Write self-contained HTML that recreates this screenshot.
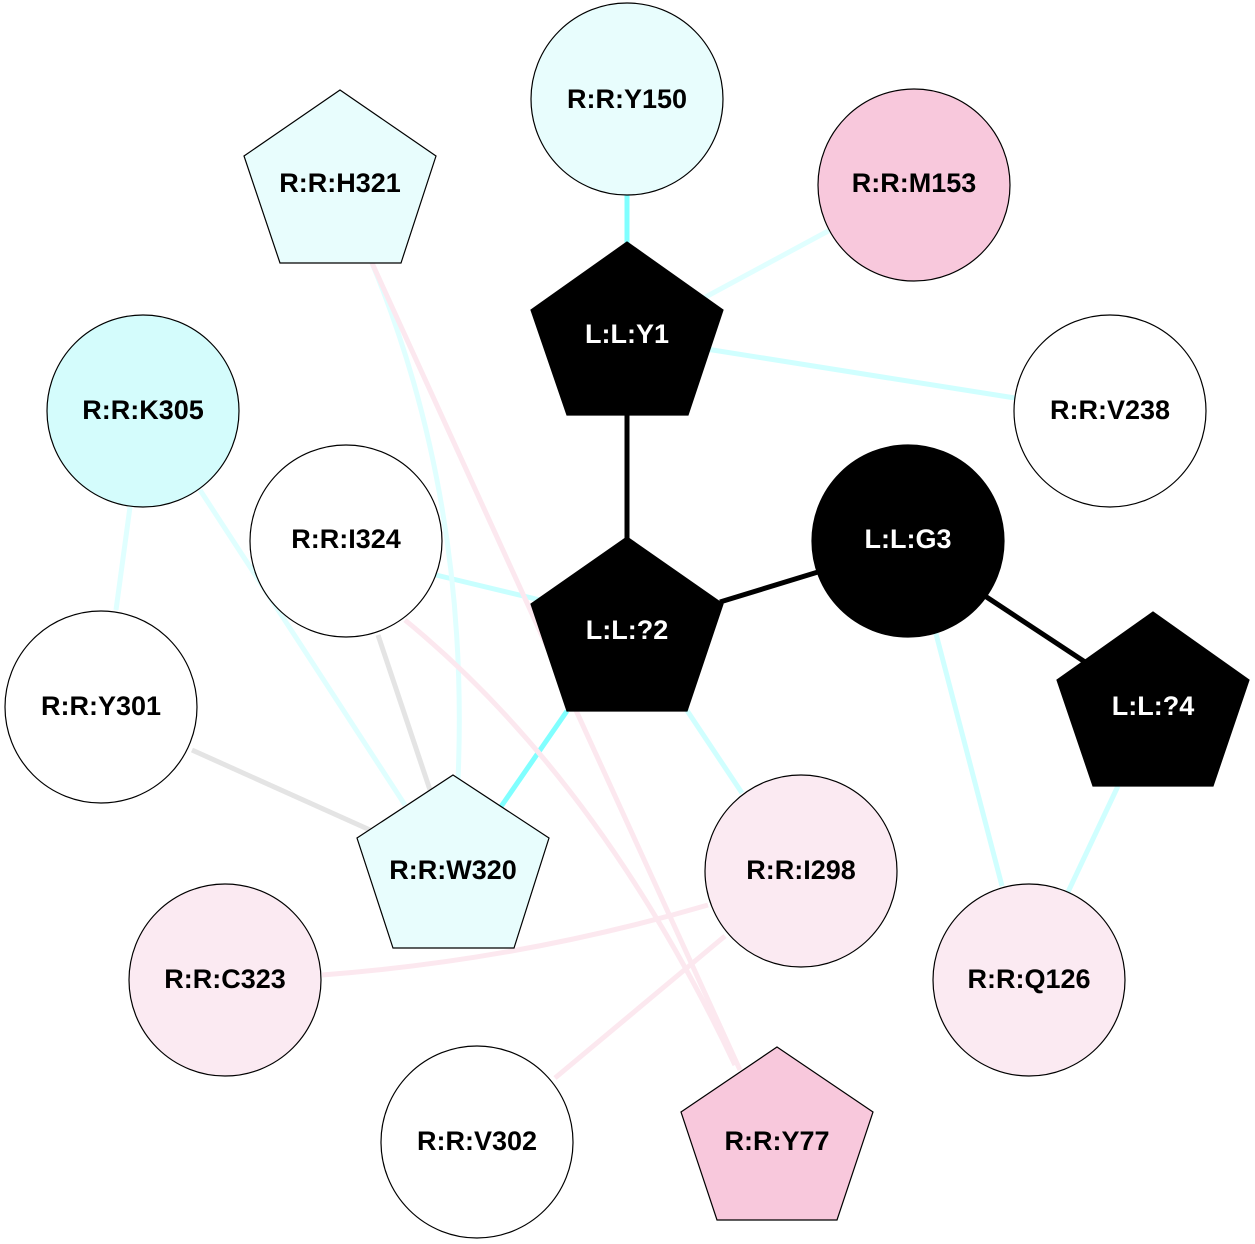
<!DOCTYPE html>
<html><head><style>body{margin:0;background:#fff}svg{display:block}text{font-family:"Liberation Sans",Arial,sans-serif;font-weight:bold;font-size:27px;text-anchor:middle;dominant-baseline:central}</style></head>
<body>
<svg width="1255" height="1244" viewBox="0 0 1255 1244">
<g fill="none" stroke-width="5">
<line x1="627" y1="190" x2="627" y2="250" stroke="#80ffff"/>
<line x1="830" y1="230" x2="700" y2="300" stroke="#e0ffff"/>
<line x1="1015" y1="398" x2="700" y2="348" stroke="#d0ffff"/>
<line x1="436" y1="575" x2="540" y2="600" stroke="#c8ffff"/>
<line x1="567" y1="711" x2="500" y2="808" stroke="#80ffff"/>
<line x1="680" y1="700" x2="742" y2="793" stroke="#d0ffff"/>
<line x1="935" y1="630" x2="1002" y2="886" stroke="#d0ffff"/>
<line x1="1118" y1="786" x2="1068" y2="892" stroke="#d0ffff"/>
<line x1="130" y1="507" x2="116" y2="610" stroke="#e0ffff"/>
<line x1="200" y1="490" x2="405" y2="805" stroke="#e0ffff"/>
<path d="M372,263 Q470,500 458,780" stroke="#e0ffff"/>
<line x1="372" y1="263" x2="740" y2="1070" stroke="#fce8ef"/>
<path d="M405,620 Q600,780 735,1065" stroke="#fce8ef"/>
<line x1="378" y1="635" x2="430" y2="790" stroke="#e4e4e4"/>
<line x1="192" y1="750" x2="370" y2="830" stroke="#e4e4e4"/>
<path d="M322,975 Q520,960 708,905" stroke="#fce8ef"/>
<line x1="725" y1="936" x2="555" y2="1078" stroke="#fce8ef"/>
<line x1="627" y1="415" x2="627" y2="540" stroke="#000"/>
<line x1="720" y1="602" x2="818" y2="572" stroke="#000"/>
<line x1="985" y1="596" x2="1085" y2="662" stroke="#000"/>
</g>
<g stroke="#000" stroke-width="1.2">
<circle cx="627" cy="99" r="96" fill="#e8fdfd"/>
<circle cx="914" cy="185" r="96" fill="#f8c8dc"/>
<polygon points="340,90 436,156 401,263 280,263 244,156" fill="#e8fdfd"/>
<polygon points="627,242 723,310 688,415 567,415 531,310" fill="#000"/>
<circle cx="1110" cy="411" r="96" fill="#fff"/>
<circle cx="143" cy="411" r="96" fill="#d4fcfc"/>
<circle cx="346" cy="541" r="96" fill="#fff"/>
<circle cx="908" cy="541" r="96" fill="#000"/>
<polygon points="627,537 723,604 687,711 567,711 531,604" fill="#000"/>
<polygon points="1153,612 1249,680 1213,786 1093,786 1057,680" fill="#000"/>
<circle cx="101" cy="707" r="96" fill="#fff"/>
<polygon points="453,775 549,838 514,948 393,948 357,838" fill="#e8fdfd"/>
<circle cx="801" cy="871" r="96" fill="#fbeaf2"/>
<circle cx="225" cy="980" r="96" fill="#fbeaf2"/>
<circle cx="1029" cy="980" r="96" fill="#fbeaf2"/>
<circle cx="477" cy="1142" r="96" fill="#fff"/>
<polygon points="777,1047 873,1112 837,1220 717,1220 681,1112" fill="#f8c8dc"/>
</g>
<text x="627" y="99">R:R:Y150</text>
<text x="914" y="183">R:R:M153</text>
<text x="340" y="183">R:R:H321</text>
<text x="627" y="334" fill="#fff">L:L:Y1</text>
<text x="1110" y="410">R:R:V238</text>
<text x="143" y="410">R:R:K305</text>
<text x="346" y="539">R:R:I324</text>
<text x="908" y="539" fill="#fff">L:L:G3</text>
<text x="627" y="630" fill="#fff">L:L:?2</text>
<text x="1153" y="706" fill="#fff">L:L:?4</text>
<text x="101" y="706">R:R:Y301</text>
<text x="453" y="870">R:R:W320</text>
<text x="801" y="870">R:R:I298</text>
<text x="225" y="979">R:R:C323</text>
<text x="1029" y="979">R:R:Q126</text>
<text x="477" y="1141">R:R:V302</text>
<text x="777" y="1141">R:R:Y77</text>
</svg>
</body></html>
